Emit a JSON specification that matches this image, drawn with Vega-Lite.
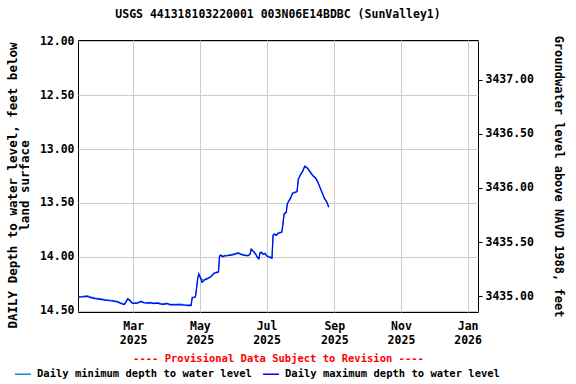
{
  "$schema": "https://vega.github.io/schema/vega-lite/v6.json",
  "width": 400,
  "height": 272,
  "autosize": {"type": "none"},
  "padding": {"left": 78, "top": 40, "right": 98, "bottom": 72},
  "background": "white",
  "title": {
    "text": "USGS 441318103220001 003N06E14BDBC (SunValley1)",
    "font": "DejaVu Sans Mono",
    "fontSize": 11.5,
    "fontWeight": "bold",
    "color": "black",
    "anchor": "middle",
    "offset": 15
  },
  "config": {
    "view": {"stroke": "black", "strokeWidth": 1},
    "axis": {
      "labelFont": "DejaVu Sans Mono",
      "labelFontWeight": "bold",
      "labelFontSize": 11.5,
      "labelColor": "black",
      "titleFont": "DejaVu Sans Mono",
      "titleFontWeight": "bold",
      "titleFontSize": 12,
      "titleColor": "black",
      "gridColor": "#cccccc",
      "gridWidth": 1,
      "domain": false
    }
  },
  "data": {
    "values": [
      {"date": "2025-01-10", "min": 14.366, "max": 14.372},
      {"date": "2025-01-14", "min": 14.364, "max": 14.370},
      {"date": "2025-01-18", "min": 14.358, "max": 14.366},
      {"date": "2025-01-21", "min": 14.370, "max": 14.376},
      {"date": "2025-01-25", "min": 14.380, "max": 14.386},
      {"date": "2025-01-30", "min": 14.386, "max": 14.392},
      {"date": "2025-02-03", "min": 14.394, "max": 14.400},
      {"date": "2025-02-07", "min": 14.399, "max": 14.405},
      {"date": "2025-02-11", "min": 14.404, "max": 14.410},
      {"date": "2025-02-15", "min": 14.412, "max": 14.418},
      {"date": "2025-02-18", "min": 14.426, "max": 14.432},
      {"date": "2025-02-21", "min": 14.433, "max": 14.440},
      {"date": "2025-02-22", "min": 14.418, "max": 14.425},
      {"date": "2025-02-24", "min": 14.384, "max": 14.390},
      {"date": "2025-02-26", "min": 14.398, "max": 14.405},
      {"date": "2025-02-28", "min": 14.422, "max": 14.428},
      {"date": "2025-03-02", "min": 14.424, "max": 14.430},
      {"date": "2025-03-05", "min": 14.422, "max": 14.428},
      {"date": "2025-03-08", "min": 14.408, "max": 14.414},
      {"date": "2025-03-11", "min": 14.419, "max": 14.425},
      {"date": "2025-03-14", "min": 14.422, "max": 14.428},
      {"date": "2025-03-17", "min": 14.419, "max": 14.425},
      {"date": "2025-03-20", "min": 14.426, "max": 14.432},
      {"date": "2025-03-23", "min": 14.422, "max": 14.428},
      {"date": "2025-03-26", "min": 14.430, "max": 14.436},
      {"date": "2025-03-29", "min": 14.432, "max": 14.438},
      {"date": "2025-04-01", "min": 14.426, "max": 14.432},
      {"date": "2025-04-04", "min": 14.438, "max": 14.444},
      {"date": "2025-04-08", "min": 14.438, "max": 14.444},
      {"date": "2025-04-13", "min": 14.437, "max": 14.443},
      {"date": "2025-04-17", "min": 14.441, "max": 14.447},
      {"date": "2025-04-21", "min": 14.444, "max": 14.450},
      {"date": "2025-04-23", "min": 14.444, "max": 14.450},
      {"date": "2025-04-24", "min": 14.372, "max": 14.378},
      {"date": "2025-04-26", "min": 14.369, "max": 14.375},
      {"date": "2025-04-27", "min": 14.364, "max": 14.370},
      {"date": "2025-04-28", "min": 14.284, "max": 14.290},
      {"date": "2025-04-29", "min": 14.199, "max": 14.205},
      {"date": "2025-04-30", "min": 14.154, "max": 14.160},
      {"date": "2025-05-01", "min": 14.174, "max": 14.180},
      {"date": "2025-05-03", "min": 14.214, "max": 14.235},
      {"date": "2025-05-05", "min": 14.209, "max": 14.215},
      {"date": "2025-05-07", "min": 14.199, "max": 14.205},
      {"date": "2025-05-10", "min": 14.186, "max": 14.192},
      {"date": "2025-05-12", "min": 14.169, "max": 14.175},
      {"date": "2025-05-14", "min": 14.146, "max": 14.152},
      {"date": "2025-05-17", "min": 14.137, "max": 14.143},
      {"date": "2025-05-18", "min": 14.134, "max": 14.140},
      {"date": "2025-05-19", "min": 13.989, "max": 13.995},
      {"date": "2025-05-20", "min": 13.979, "max": 13.985},
      {"date": "2025-05-22", "min": 13.992, "max": 13.998},
      {"date": "2025-05-24", "min": 13.984, "max": 13.990},
      {"date": "2025-05-27", "min": 13.982, "max": 13.988},
      {"date": "2025-05-30", "min": 13.976, "max": 13.982},
      {"date": "2025-06-02", "min": 13.969, "max": 13.975},
      {"date": "2025-06-05", "min": 13.959, "max": 13.965},
      {"date": "2025-06-08", "min": 13.972, "max": 13.978},
      {"date": "2025-06-11", "min": 13.979, "max": 13.985},
      {"date": "2025-06-14", "min": 13.984, "max": 13.990},
      {"date": "2025-06-16", "min": 13.969, "max": 13.975},
      {"date": "2025-06-17", "min": 13.924, "max": 13.930},
      {"date": "2025-06-19", "min": 13.944, "max": 13.950},
      {"date": "2025-06-21", "min": 13.969, "max": 13.975},
      {"date": "2025-06-23", "min": 14.004, "max": 14.010},
      {"date": "2025-06-24", "min": 14.012, "max": 14.018},
      {"date": "2025-06-25", "min": 13.959, "max": 13.965},
      {"date": "2025-06-26", "min": 13.952, "max": 13.958},
      {"date": "2025-06-28", "min": 13.969, "max": 13.975},
      {"date": "2025-06-30", "min": 13.964, "max": 13.970},
      {"date": "2025-07-01", "min": 13.984, "max": 13.990},
      {"date": "2025-07-03", "min": 13.994, "max": 14.000},
      {"date": "2025-07-05", "min": 14.002, "max": 14.008},
      {"date": "2025-07-06", "min": 14.006, "max": 14.012},
      {"date": "2025-07-07", "min": 13.794, "max": 13.800},
      {"date": "2025-07-08", "min": 13.784, "max": 13.790},
      {"date": "2025-07-10", "min": 13.794, "max": 13.800},
      {"date": "2025-07-12", "min": 13.774, "max": 13.780},
      {"date": "2025-07-15", "min": 13.766, "max": 13.772},
      {"date": "2025-07-16", "min": 13.694, "max": 13.700},
      {"date": "2025-07-17", "min": 13.599, "max": 13.605},
      {"date": "2025-07-19", "min": 13.584, "max": 13.590},
      {"date": "2025-07-20", "min": 13.504, "max": 13.510},
      {"date": "2025-07-21", "min": 13.484, "max": 13.490},
      {"date": "2025-07-23", "min": 13.449, "max": 13.455},
      {"date": "2025-07-25", "min": 13.404, "max": 13.410},
      {"date": "2025-07-27", "min": 13.399, "max": 13.405},
      {"date": "2025-07-29", "min": 13.389, "max": 13.395},
      {"date": "2025-07-30", "min": 13.279, "max": 13.285},
      {"date": "2025-08-01", "min": 13.234, "max": 13.240},
      {"date": "2025-08-03", "min": 13.204, "max": 13.210},
      {"date": "2025-08-04", "min": 13.179, "max": 13.185},
      {"date": "2025-08-05", "min": 13.156, "max": 13.162},
      {"date": "2025-08-06", "min": 13.162, "max": 13.168},
      {"date": "2025-08-07", "min": 13.169, "max": 13.175},
      {"date": "2025-08-09", "min": 13.194, "max": 13.200},
      {"date": "2025-08-11", "min": 13.224, "max": 13.230},
      {"date": "2025-08-13", "min": 13.249, "max": 13.255},
      {"date": "2025-08-15", "min": 13.266, "max": 13.272},
      {"date": "2025-08-17", "min": 13.304, "max": 13.310},
      {"date": "2025-08-19", "min": 13.354, "max": 13.360},
      {"date": "2025-08-21", "min": 13.404, "max": 13.410},
      {"date": "2025-08-23", "min": 13.454, "max": 13.460},
      {"date": "2025-08-25", "min": 13.484, "max": 13.490},
      {"date": "2025-08-27", "min": 13.534, "max": 13.540}
    ]
  },
  "layer": [
    {
      "transform": [{"fold": ["min", "max"], "as": ["series", "depth"]}],
      "mark": {"type": "line", "strokeWidth": 1.2, "clip": true},
      "encoding": {
        "x": {
          "field": "date",
          "type": "temporal",
          "scale": {
            "type": "utc",
            "domain": [
              {"year": 2025, "month": 1, "date": 9, "hours": 12, "utc": true},
              {"year": 2026, "month": 1, "date": 10, "hours": 12, "utc": true}
            ]
          },
          "axis": {
            "values": [
              {"year": 2025, "month": 3, "date": 1, "utc": true},
              {"year": 2025, "month": 5, "date": 1, "utc": true},
              {"year": 2025, "month": 7, "date": 1, "utc": true},
              {"year": 2025, "month": 9, "date": 1, "utc": true},
              {"year": 2025, "month": 11, "date": 1, "utc": true},
              {"year": 2026, "month": 1, "date": 1, "utc": true}
            ],
            "labelExpr": "[utcFormat(datum.value, '%b'), utcFormat(datum.value, '%Y')]",
            "labelLineHeight": 14,
            "labelPadding": 8,
            "ticks": false,
            "grid": true,
            "title": "---- Provisional Data Subject to Revision ----",
            "titleColor": "#ff0000",
            "titleFontSize": 10.5,
            "titlePadding": 8
          }
        },
        "y": {
          "field": "depth",
          "type": "quantitative",
          "scale": {"domain": [11.9907, 14.5093], "reverse": true, "nice": false, "zero": false},
          "axis": {
            "values": [12, 12.5, 13, 13.5, 14, 14.5],
            "format": ".2f",
            "ticks": false,
            "labelPadding": 4,
            "grid": true,
            "title": ["DAILY Depth to water level, feet below", "land surface"],
            "titleFontSize": 12.5,
            "titleY": 145,
            "titlePadding": 8,
            "titleLineHeight": 12
          }
        },
        "color": {
          "field": "series",
          "type": "nominal",
          "scale": {"domain": ["min", "max"], "range": ["#0a8ad5", "#0000ff"]},
          "legend": {
            "orient": "none",
            "direction": "horizontal",
            "legendX": -64,
            "legendY": 325,
            "title": null,
            "symbolType": "stroke",
            "symbolSize": 256,
            "symbolStrokeWidth": 1.5,
            "labelFont": "DejaVu Sans Mono",
            "labelFontWeight": "bold",
            "labelFontSize": 10.5,
            "labelColor": "black",
            "labelLimit": 0,
            "labelOffset": 5,
            "columnPadding": 8,
            "labelExpr": "datum.label == 'min' ? 'Daily minimum depth to water level' : 'Daily maximum depth to water level'"
          }
        }
      }
    },
    {
      "mark": {"type": "rule", "opacity": 0},
      "encoding": {
        "y": {
          "datum": 3436,
          "type": "quantitative",
          "scale": {"domain": [3434.852, 3437.37], "nice": false, "zero": false},
          "axis": {
            "orient": "right",
            "values": [3435, 3435.5, 3436, 3436.5, 3437],
            "format": ".2f",
            "grid": false,
            "ticks": true,
            "tickColor": "black",
            "tickSize": 4,
            "tickOffset": 0,
            "labelPadding": 3,
            "title": "Groundwater level above NAVD 1988, feet",
            "titlePadding": 18
          }
        }
      }
    }
  ],
  "resolve": {"scale": {"y": "independent"}}
}
